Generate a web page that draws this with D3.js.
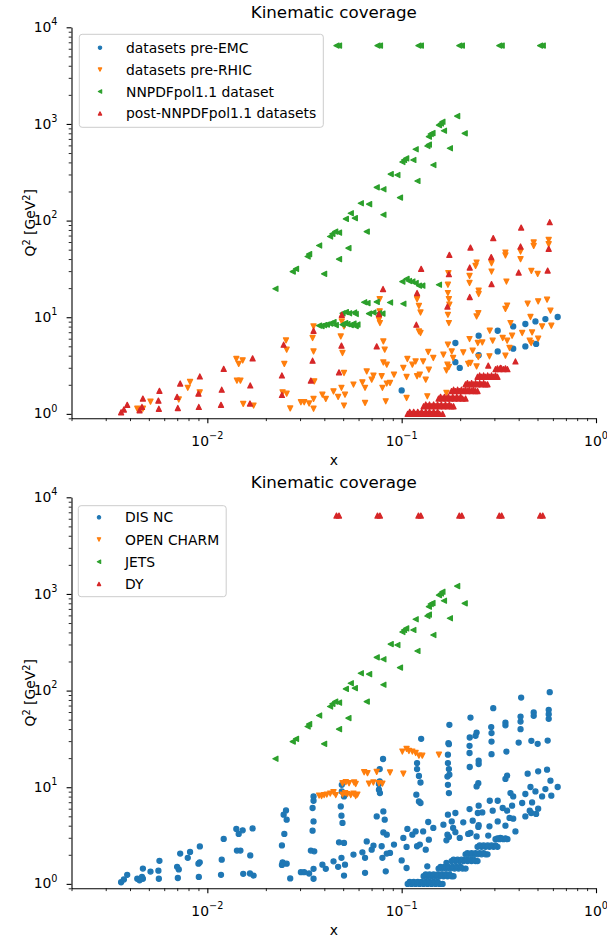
<!DOCTYPE html>
<html>
<head>
<meta charset="utf-8">
<script src="https://cdn.jsdelivr.net/npm/d3@7"></script>
<style>
  body { margin: 0; background: #fff; }
  svg { display: block; }
  text { font-family: "DejaVu Sans", sans-serif; fill: #000; }
</style>
</head>
<body>
<svg id="chart" width="607" height="941"></svg>
<script>
// ---- kinematic points [x, Q^2 (GeV^2)] ----

// DIS, pre-EMC experiments
const disPreEMC = [
  [0.100,1.75],[0.189,5.41],[0.189,3.43],[0.199,2.99],[0.249,6.44],[0.249,4.05],
  [0.312,7.25],[0.312,4.43],[0.375,8.03],[0.375,4.73],[0.433,8.51],[0.433,4.99],
  [0.488,9.05],[0.492,5.29],[0.549,9.58],[0.635,10.05]
];

// DIS, pre-RHIC experiments
const disPreRHIC = [
  [0.00436,1.13],[0.00466,1.13],[0.00510,1.34],[0.00713,1.41],[0.00793,1.86],[0.00815,2.14],
  [0.00914,1.67],[0.0141,3.70],[0.0145,3.29],[0.0152,3.58],[0.0142,2.21],[0.0148,2.21],
  [0.0153,1.27],[0.0173,1.22],[0.0249,3.29],[0.0254,5.76],[0.0256,4.62],[0.0244,1.67],
  [0.0256,1.62],[0.0267,1.14],
  [0.0303,1.32],[0.0315,1.32],[0.0334,1.28],[0.0352,1.43],[0.0352,1.13],[0.0352,8.03],
  [0.0348,6.10],[0.0352,4.43],[0.0355,2.17],
  [0.0391,1.58],[0.0407,1.43],[0.0446,1.71],[0.0471,1.50],[0.0505,1.22],[0.0490,1.86],
  [0.0511,1.58],[0.0486,6.33],[0.0496,4.27],[0.0505,2.65],[0.0492,9.05],[0.0505,8.03],
  [0.0565,2.01],[0.0628,2.12],[0.0648,1.86],[0.0701,2.26],[0.0648,1.30],[0.0716,2.49],
  [0.0789,2.45],[0.0828,1.35],[0.0796,1.86],[0.0838,2.06],[0.0871,2.09],[0.0771,15.4],
  [0.0771,11.5],[0.0764,9.42],[0.0773,8.71],[0.0805,5.62],[0.0818,4.62],[0.0805,3.41],
  [0.0838,3.23],[0.0913,2.55],[0.0661,2.75],
  [0.107,3.70],[0.118,3.49],[0.129,3.49],[0.137,4.37],[0.1455,3.79],[0.106,2.41],
  [0.120,2.45],[0.124,2.55],[0.138,2.87],[0.133,2.26],[0.106,1.46],[0.1355,1.52],
  [0.120,15.4],[0.1227,13.1],[0.125,11.2],[0.1227,7.13],[0.125,6.87],[0.1135,3.23],[0.102,2.99],
  [0.173,21.7],[0.173,17.8],[0.175,15.4],[0.176,13.5],[0.173,10.6],[0.175,8.71],[0.174,28.6],
  [0.164,4.10],[0.181,4.43],[0.184,3.79],[0.173,5.20],[0.172,3.23],[0.175,3.06],[0.170,2.82],
  [0.170,1.65],
  [0.2075,4.33],[0.2235,5.95],[0.2465,5.41],[0.226,3.36],[0.220,3.29],[0.243,3.10],
  [0.2235,26.8],[0.2235,22.6],[0.243,36.8],[0.240,34.0],[0.249,18.8],[0.249,17.4],
  [0.248,11.0],[0.243,10.2],[0.232,4.51],[0.248,3.88],[0.260,5.49],
  [0.290,36.3],[0.290,29.7],[0.342,46.7],[0.342,43.7],[0.346,23.4],[0.349,13.2],
  [0.342,12.2],[0.284,7.25],[0.294,5.72],[0.331,6.10],[0.349,5.72],[0.370,6.44],
  [0.283,3.94],[0.342,4.00],[0.359,4.81],[0.363,8.71],
  [0.409,47.8],[0.409,39.9],[0.417,6.87],[0.469,6.97],[0.445,13.8],[0.460,10.05],
  [0.456,5.72],[0.464,5.41],[0.504,6.00],[0.465,30.2],[0.501,28.1],[0.478,59.3],
  [0.478,54.8],[0.504,14.6],[0.528,8.03],[0.560,15.2],[0.571,63.2],[0.571,57.0],
  [0.583,11.7],[0.589,8.17]
];

// DIS, added after NNPDFpol1.1
const disPost = [
  [0.00360,1.04],[0.00372,1.11],[0.00387,1.24],[0.00448,1.09],[0.00461,1.18],[0.00466,1.44],
  [0.00563,1.13],[0.00560,1.37],[0.00567,1.73],[0.00705,1.15],[0.00699,1.50],[0.00725,2.06],
  [0.00904,1.18],[0.00900,1.62],[0.00915,2.44],[0.01176,1.24],[0.01186,1.78],[0.01214,2.92],
  [0.01657,1.28],[0.01663,1.97],[0.0171,3.75],[0.0242,1.57],[0.0242,2.50],[0.0247,5.20],
  [0.0352,7.25],[0.0348,3.55],[0.0341,2.21],[0.0492,10.6],[0.0490,5.08],[0.0476,2.69],
  [0.0764,10.8],[0.0744,4.99],[0.0802,19.6],
  [0.120,17.8],[0.119,8.37],[0.126,31.7],[0.172,12.9],[0.175,27.9],[0.176,44.2],
  [0.224,16.2],[0.224,32.7],[0.226,52.6],[0.290,22.0],[0.289,41.9],[0.296,65.8],
  [0.400,29.0],[0.409,53.9],[0.412,84.7],[0.564,30.4],[0.571,51.0],[0.578,96.3],
  [0.279,3.16],[0.322,2.99],[0.385,3.49],
  // high-statistics band at low Q^2
  [0.1074,1.00],[0.1126,1.00],[0.118,1.00],[0.1237,1.00],[0.1297,1.00],[0.136,1.00],
  [0.1426,1.00],[0.1495,1.00],[0.1567,1.00],[0.1624,1.00],
  [0.110,1.05],[0.1153,1.05],[0.121,1.05],[0.1267,1.05],[0.133,1.05],[0.139,1.05],
  [0.146,1.05],[0.153,1.05],
  [0.1297,1.20],[0.136,1.20],[0.1426,1.20],[0.1495,1.20],[0.1567,1.20],[0.1643,1.20],
  [0.1722,1.20],[0.1806,1.20],[0.1849,1.20],
  [0.133,1.25],[0.139,1.25],[0.146,1.25],[0.153,1.25],[0.160,1.25],[0.168,1.25],[0.176,1.25],
  [0.1549,1.44],[0.1624,1.44],[0.1702,1.44],[0.1785,1.44],[0.1872,1.44],[0.1963,1.44],
  [0.2058,1.44],[0.2132,1.44],
  [0.1585,1.50],[0.166,1.50],[0.174,1.50],[0.183,1.50],[0.192,1.50],[0.201,1.50],
  [0.1806,1.72],[0.1894,1.72],[0.1986,1.72],[0.2082,1.72],[0.2183,1.72],[0.2288,1.72],
  [0.2399,1.72],[0.2457,1.72],
  [0.185,1.78],[0.194,1.78],[0.203,1.78],[0.213,1.78],[0.223,1.78],[0.234,1.78],
  [0.2132,2.02],[0.2235,2.02],[0.2343,2.02],[0.2457,2.02],[0.2576,2.02],[0.2701,2.02],[0.2765,2.02],
  [0.218,2.08],[0.229,2.08],[0.240,2.08],[0.252,2.08],[0.264,2.08],
  [0.2457,2.42],[0.2576,2.42],[0.2701,2.42],[0.2831,2.42],[0.2969,2.42],[0.3112,2.42],
  [0.252,2.50],[0.264,2.50],[0.277,2.50],[0.290,2.50],[0.304,2.50],
  [0.304,2.90],[0.3186,2.90],[0.3341,2.90],[0.3502,2.90],
  [0.311,2.96],[0.326,2.96],[0.342,2.96]
];

// inclusive jets
const jets = [
  [0.193,1207],[0.162,1054],[0.1555,974],[0.159,1010],[0.165,851],[0.211,800],[0.141,787],
  [0.144,805],[0.138,738],[0.1355,591],[0.138,612],[0.177,560],[0.118,547],[0.1028,424],
  [0.1008,404],[0.1055,440],[0.1148,424],[0.1455,376],[0.0878,303],[0.095,296],[0.1205,257],
  [0.0744,221],[0.0805,211],[0.098,173],[0.0616,151],[0.068,148],[0.0805,115],[0.0547,119],
  [0.0516,104],[0.0574,106],[0.0661,77],[0.0476,75],[0.044,72.9],[0.0428,68.4],[0.0455,77],
  [0.0376,55.2],[0.0532,51.9],[0.0334,45],[0.0328,42.5],[0.0476,39.9],[0.0286,31.7],
  [0.0275,29.7],[0.0399,28.1],[0.0224,19.7]
];

// open-charm production
const openCharm = [
  [0.0376,8.2],[0.0387,8.1],[0.0399,8.3],[0.0412,8.4],[0.0429,8.6],[0.0446,8.9],[0.0458,8.3],
  [0.0496,8.4],[0.0512,8.7],[0.0526,8.5],[0.0547,8.3],[0.0565,8.6],[0.0580,8.1],[0.0592,8.4],
  [0.0496,11.0],[0.0516,11.3],[0.0536,11.0],[0.0569,11.2],[0.0580,10.8],[0.0679,10.9],
  [0.0715,11.2],[0.0764,11.0],[0.0796,10.9],
  [0.0641,14.3],[0.0667,14.0],[0.0744,14.4],[0.0871,14.2],[0.102,13.8],
  [0.1008,23.4],[0.106,24.9],[0.109,23.7],[0.1135,23.4],[0.118,22.6],[0.1227,21.2],
  [0.1277,21.2],[0.1555,21.7]
];

// W production (Drell-Yan), Q^2 = M_W^2
const dyW = [
  [0.0462,6464],[0.0476,6464],[0.0751,6464],[0.0773,6464],[0.122,6464],[0.1255,6464],
  [0.198,6464],[0.204,6464],[0.318,6464],[0.327,6464],[0.516,6464],[0.532,6464]
];

// ---- axes ----
const xDomain = [0.002, 1];
const yDomain = [0.9, 10000];
const xMajorTicks = [0.01, 0.1, 1];
const xTickExponents = ["\u22122", "\u22121", "0"];
const yMajorTicks = [1, 10, 100, 1000, 10000];
const yTickExponents = ["0", "1", "2", "3", "4"];

const chartTitle = "Kinematic coverage";
const topLabels = ["datasets pre-EMC", "datasets pre-RHIC", "NNPDFpol1.1 dataset", "post-NNPDFpol1.1 datasets"];
const bottomLabels = ["DIS NC", "OPEN CHARM", "JETS", "DY"];
const palette = ["#1f77b4", "#ff7f0e", "#2ca02c", "#d62728"];
const markers = ["o", "v", "<", "^"];

const svg = d3.select("#chart");
svg.append("rect").attr("width", 607).attr("height", 941).attr("fill", "#fff");

function markerPath(kind, s) {
  const h = s / 2;
  switch (kind) {
    case "o": return `M${h},0A${h},${h} 0 1,1 ${-h},0A${h},${h} 0 1,1 ${h},0Z`;
    case "v": return `M0,${h}L${-h},${-h}L${h},${-h}Z`;
    case "^": return `M0,${-h}L${-h},${h}L${h},${h}Z`;
    case "<": return `M${-h},0L${h},${-h}L${h},${h}Z`;
  }
}

function superscriptLabel(sel, base, exp, size, supSize, shift) {
  sel.append("tspan").attr("font-size", size).text(base);
  sel.append("tspan").attr("font-size", supSize).attr("dy", -shift).text(exp);
}

const panels = [
  {
    top: 27.3, bottom: 418.3,
    legend: { x: 79.3, y: 34.3, h: 93, row0: 13.4, step: 21.9 },
    series: [
      { label: topLabels[0], data: disPreEMC },
      { label: topLabels[1], data: disPreRHIC },
      { label: topLabels[2], data: jets.concat(openCharm, dyW) },
      { label: topLabels[3], data: disPost }
    ]
  },
  {
    top: 497.3, bottom: 888.3,
    legend: { x: 78.3, y: 505.7, h: 91, row0: 11.6, step: 22.2 },
    series: [
      { label: bottomLabels[0], data: disPreEMC.concat(disPreRHIC, disPost) },
      { label: bottomLabels[1], data: openCharm },
      { label: bottomLabels[2], data: jets },
      { label: bottomLabels[3], data: dyW }
    ]
  }
];

const left = 71.5, right = 596;

panels.forEach(p => {
  const g = svg.append("g");
  const x = d3.scaleLog().domain(xDomain).range([left, right]);
  const y = d3.scaleLog().domain(yDomain).range([p.bottom, p.top]);

  // scatter series
  p.series.forEach((s, i) => {
    g.append("g")
      .selectAll("path")
      .data(s.data)
      .join("path")
      .attr("transform", d => `translate(${x(d[0])},${y(d[1])})`)
      .attr("d", markerPath(markers[i], 5.0))
      .attr("fill", palette[i])
      .attr("stroke", palette[i])
      .attr("stroke-width", 1.3)
      .attr("stroke-linejoin", "round");
  });

  // x axis: major and minor ticks
  const xMinor = x.ticks().filter(v => !xMajorTicks.some(m => Math.abs(m - v) < 1e-12));
  const xa = g.append("g").attr("transform", `translate(0,${p.bottom})`)
    .call(d3.axisBottom(x).tickValues(xMajorTicks).tickSize(4.9).tickSizeOuter(0).tickFormat(() => ""));
  xa.select(".domain").attr("stroke", "#000").attr("stroke-width", 1.1);
  xa.selectAll(".tick line").attr("stroke", "#000").attr("stroke-width", 1.1);
  const xm = g.append("g").attr("transform", `translate(0,${p.bottom})`)
    .call(d3.axisBottom(x).tickValues(xMinor).tickSize(2.8).tickFormat(() => ""));
  xm.select(".domain").remove();
  xm.selectAll(".tick line").attr("stroke", "#000").attr("stroke-width", 0.85);

  xMajorTicks.forEach((v, i) => {
    const t = g.append("text")
      .attr("x", x(v)).attr("y", p.bottom + 27.3)
      .attr("text-anchor", "middle");
    superscriptLabel(t, "10", xTickExponents[i], 13.9, 9.7, 6.8);
  });

  // y axis: major and minor ticks
  const yMinor = y.ticks().filter(v => !yMajorTicks.some(m => Math.abs(m - v) / m < 1e-9));
  const ya = g.append("g").attr("transform", `translate(${left},0)`)
    .call(d3.axisLeft(y).tickValues(yMajorTicks).tickSize(4.9).tickSizeOuter(0).tickFormat(() => ""));
  ya.select(".domain").attr("stroke", "#000").attr("stroke-width", 1.1);
  ya.selectAll(".tick line").attr("stroke", "#000").attr("stroke-width", 1.1);
  const ym = g.append("g").attr("transform", `translate(${left},0)`)
    .call(d3.axisLeft(y).tickValues(yMinor).tickSize(2.8).tickFormat(() => ""));
  ym.select(".domain").remove();
  ym.selectAll(".tick line").attr("stroke", "#000").attr("stroke-width", 0.85);

  yMajorTicks.forEach((v, i) => {
    const t = g.append("text")
      .attr("x", 57.5).attr("y", y(v) + 4.6)
      .attr("text-anchor", "end");
    superscriptLabel(t, "10", yTickExponents[i], 13.9, 9.7, 6.8);
  });

  // axis titles
  g.append("text")
    .attr("x", (left + right) / 2).attr("y", p.bottom + 46.5)
    .attr("text-anchor", "middle").attr("font-size", 13.9)
    .text("x");

  const yl = g.append("text")
    .attr("transform", `translate(35,${(p.top + p.bottom) / 2}) rotate(-90)`)
    .attr("text-anchor", "middle").attr("font-size", 13.9);
  yl.append("tspan").text("Q");
  yl.append("tspan").attr("font-size", 9.7).attr("dy", -5.5).text("2");
  yl.append("tspan").attr("dy", 5.5).text("\u00a0[GeV");
  yl.append("tspan").attr("font-size", 9.7).attr("dy", -5.5).text("2");
  yl.append("tspan").attr("dy", 5.5).text("]");

  g.append("text")
    .attr("x", (left + right) / 2).attr("y", p.top - 9)
    .attr("text-anchor", "middle").attr("font-size", 16.7)
    .text(chartTitle);

  // legend
  const L = p.legend;
  const lg = g.append("g");
  const box = lg.append("rect")
    .attr("x", L.x).attr("y", L.y).attr("height", L.h)
    .attr("rx", 2.8).attr("ry", 2.8)
    .attr("fill", "#fff").attr("fill-opacity", 0.8)
    .attr("stroke", "#cccccc").attr("stroke-width", 1);
  let maxLen = 0;
  p.series.forEach((s, i) => {
    const cy = L.y + L.row0 + i * L.step;
    lg.append("path")
      .attr("transform", `translate(${L.x + 20.7},${cy})`)
      .attr("d", markerPath(markers[i], 3.4))
      .attr("fill", palette[i]).attr("stroke", palette[i])
      .attr("stroke-width", 1.1).attr("stroke-linejoin", "round");
    const t = lg.append("text")
      .attr("x", L.x + 46.7).attr("y", cy + 5)
      .attr("font-size", 13.9)
      .text(s.label);
    maxLen = Math.max(maxLen, t.node().getComputedTextLength());
  });
  box.attr("width", 46.7 + maxLen + 7);
});
</script>
</body>
</html>
